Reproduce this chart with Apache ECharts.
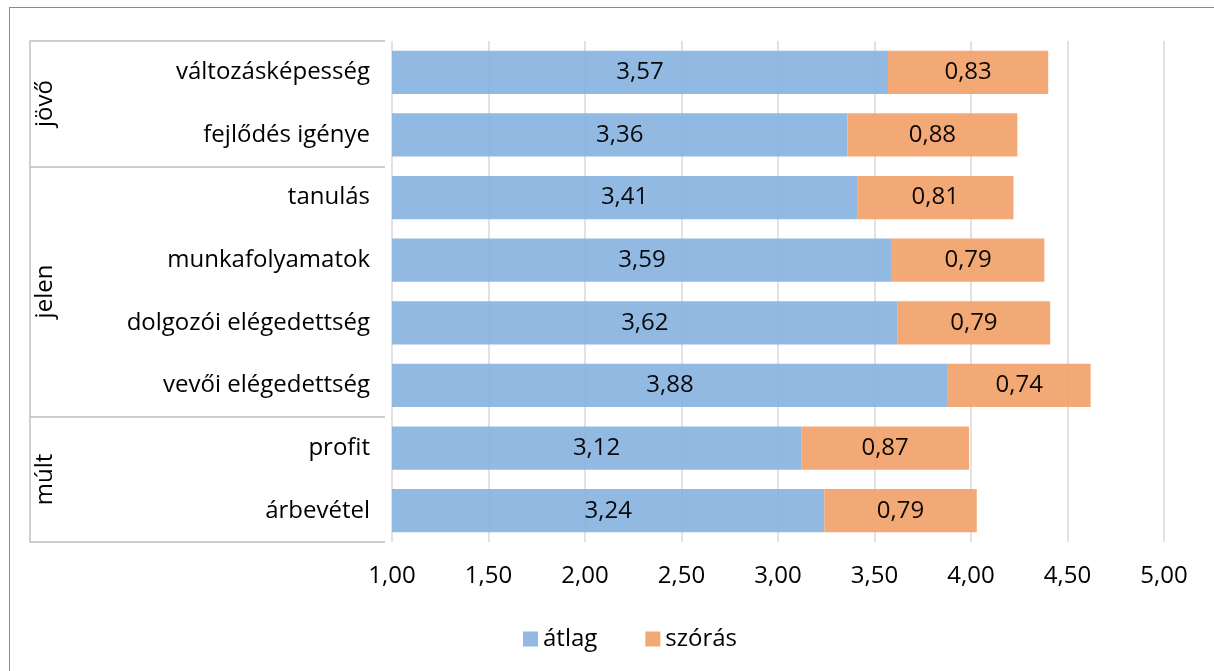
<!DOCTYPE html>
<html>
<head>
<meta charset="utf-8">
<script src="https://cdn.jsdelivr.net/npm/echarts@6/dist/echarts.min.js"></script>
<style>
  body { margin: 0; background: #fff; }
  #main { width: 1214px; height: 671px; position: relative; }
  #frame { position: absolute; left: 9px; top: 7px; right: 0; bottom: 0; border-left: 1px solid #8c8c8c; border-top: 1px solid #8c8c8c; pointer-events: none; }
</style>
</head>
<body>
<div id="main"></div>
<div id="frame"></div>
<script>
// kategóriák (felülről lefelé)
var categories = ['változásképesség', 'fejlődés igénye', 'tanulás', 'munkafolyamatok',
    'dolgozói elégedettség', 'vevői elégedettség', 'profit', 'árbevétel'];
var atlag = [3.57, 3.36, 3.41, 3.59, 3.62, 3.88, 3.12, 3.24];
var szoras = [0.83, 0.88, 0.81, 0.79, 0.79, 0.74, 0.87, 0.79];
// csoportok: név, hány kategória
var groupNames = ['jövő', 'jelen', 'múlt'];
var groupSizes = [2, 4, 2];

var font = 'Open Sans';
var fs = 24;
function fmt(v) { return Number(v).toFixed(2).replace('.', ','); }

// csoport határok és középpontok
var bounds = [0], mids = [], labelMap = {};
var acc = 0;
for (var i = 0; i < groupSizes.length; i++) {
    mids.push(acc + groupSizes[i] / 2);
    labelMap[acc + groupSizes[i] / 2] = groupNames[i];
    acc += groupSizes[i];
    bounds.push(acc);
}

var myChart = echarts.init(document.getElementById('main'));
var option = {
    animation: false,
    textStyle: { fontFamily: font },
    grid: { left: 392, right: 50, top: 41, bottom: 129 },
    legend: {
        left: 518, top: 622,
        icon: 'rect', itemWidth: 15, itemHeight: 15, itemGap: 48, itemTextGap: 8,
        textStyle: { fontSize: fs, color: '#000', fontFamily: font }
    },
    xAxis: {
        type: 'value', min: 1, max: 5, interval: 0.5,
        axisLine: { show: false }, axisTick: { show: false },
        splitLine: { lineStyle: { color: '#d9d9d9', width: 1.5 } },
        axisLabel: { fontSize: fs, color: '#000', margin: 22, formatter: fmt }
    },
    yAxis: [{
        type: 'category', data: categories, inverse: true,
        axisLine: { show: false }, axisTick: { show: false },
        axisLabel: { fontSize: fs, color: '#000', margin: 22 }
    }, {
        // csoport tengely
        type: 'value', min: 0, max: categories.length, inverse: true,
        position: 'left', offset: 362,
        splitLine: { show: false },
        axisLine: { show: true, lineStyle: { color: '#bfbfbf', width: 1.5 } },
        axisTick: { show: true, inside: true, length: 355, customValues: bounds,
            lineStyle: { color: '#bfbfbf', width: 1.5 } },
        axisLabel: { show: true, inside: true, rotate: 90, margin: 3, customValues: mids,
            fontSize: fs, color: '#000',
            formatter: function (v) { return labelMap[v] || ''; } }
    }],
    series: [{
        name: 'átlag', type: 'bar', stack: 'a', yAxisIndex: 0,
        barCategoryGap: '31%',
        itemStyle: { color: '#8cb5e0', opacity: 0.95 },
        label: { show: true, position: 'inside', fontSize: fs, color: '#000', formatter: function (p) { return fmt(p.value); } },
        data: atlag
    }, {
        name: 'szórás', type: 'bar', stack: 'a', yAxisIndex: 0,
        barCategoryGap: '31%',
        itemStyle: { color: '#f2a46f', opacity: 0.95 },
        label: { show: true, position: 'inside', fontSize: fs, color: '#000', formatter: function (p) { return fmt(p.value); } },
        data: szoras
    }]
};
myChart.setOption(option);
</script>
</body>
</html>
